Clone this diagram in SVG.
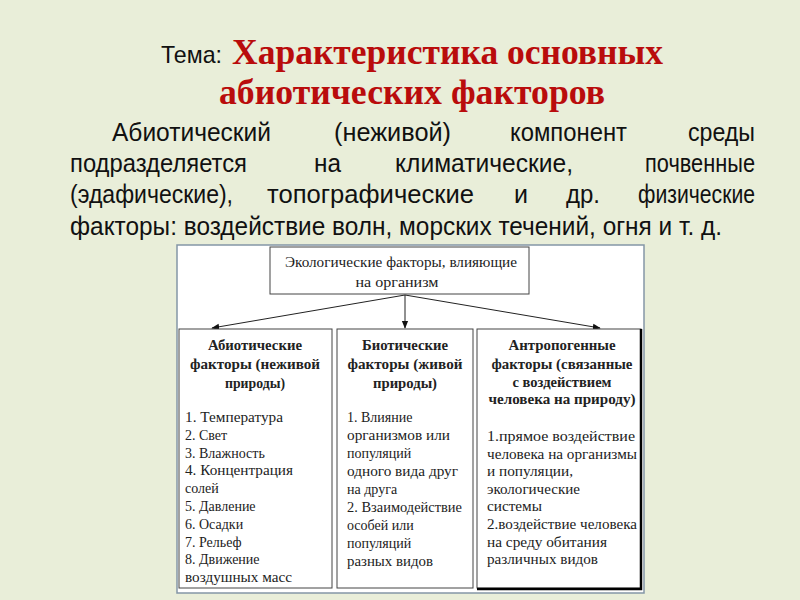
<svg xmlns="http://www.w3.org/2000/svg" width="800" height="600" viewBox="0 0 800 600">
<defs>
<style>
.bg{fill:#e9eed9}
.t{font-family:"Liberation Serif","Times New Roman",serif;font-size:14px;fill:#222}
.h{font-family:"Liberation Serif","Times New Roman",serif;font-size:14px;font-weight:bold;fill:#222;text-anchor:middle}
.p{font-family:"Liberation Sans Narrow","Liberation Sans",Arial,sans-serif;font-size:25px;fill:#111}
.red{font-family:"Liberation Serif","Times New Roman",serif;font-size:35px;font-weight:bold;fill:#b90c0c}
.box{fill:#fff;stroke:#444;stroke-width:1}
.conn{stroke:#222;stroke-width:1;fill:none;marker-end:url(#ah)}
</style>
<marker id="ah" viewBox="0 0 10 10" refX="9" refY="5" markerWidth="8" markerHeight="8" markerUnits="userSpaceOnUse" orient="auto">
<path d="M0,1 L10,5 L0,9 z" fill="#111"/>
</marker>
</defs>
<rect class="bg" x="0" y="0" width="800" height="600"/>

<g id="title">
<text x="161" y="63" font-family="'Liberation Sans Narrow','Liberation Sans',Arial,sans-serif" font-size="24" fill="#111" textLength="61" lengthAdjust="spacingAndGlyphs">Тема:</text>
<text class="red" x="232" y="64" textLength="431" lengthAdjust="spacingAndGlyphs">Характеристика основных</text>
<text class="red" x="219" y="104" textLength="386" lengthAdjust="spacingAndGlyphs">абиотических факторов</text>
</g>

<g id="paragraph">
<text class="p" x="112" y="141" textLength="159" lengthAdjust="spacingAndGlyphs">Абиотический</text>
<text class="p" x="334" y="141" textLength="117" lengthAdjust="spacingAndGlyphs">(неживой)</text>
<text class="p" x="510" y="141" textLength="117" lengthAdjust="spacingAndGlyphs">компонент</text>
<text class="p" x="688" y="141" textLength="67" lengthAdjust="spacingAndGlyphs">среды</text>
<text class="p" x="70" y="172" textLength="177" lengthAdjust="spacingAndGlyphs">подразделяется</text>
<text class="p" x="314" y="172" textLength="27" lengthAdjust="spacingAndGlyphs">на</text>
<text class="p" x="395" y="172" textLength="178" lengthAdjust="spacingAndGlyphs">климатические,</text>
<text class="p" x="645" y="172" textLength="110" lengthAdjust="spacingAndGlyphs">почвенные</text>
<text class="p" x="70" y="203" textLength="163" lengthAdjust="spacingAndGlyphs">(эдафические),</text>
<text class="p" x="267" y="203" textLength="207" lengthAdjust="spacingAndGlyphs">топографические</text>
<text class="p" x="514" y="203" textLength="14" lengthAdjust="spacingAndGlyphs">и</text>
<text class="p" x="566" y="203" textLength="34" lengthAdjust="spacingAndGlyphs">др.</text>
<text class="p" x="638" y="203" textLength="117" lengthAdjust="spacingAndGlyphs">физические</text>
<text class="p" x="70" y="235" textLength="652" lengthAdjust="spacingAndGlyphs">факторы: воздействие волн, морских течений, огня и т. д.</text>
</g>

<rect id="frame" x="177" y="245" width="467" height="348" fill="#fff" stroke="#8496a6" stroke-width="1.5"/>

<g id="root">
<rect class="box" x="270" y="247" width="259" height="47" stroke="#333"/>
<text class="t" x="285" y="267" textLength="232" lengthAdjust="spacingAndGlyphs">Экологические факторы, влияющие</text>
<text class="t" x="397" y="287" text-anchor="middle" textLength="83" lengthAdjust="spacingAndGlyphs">на организм</text>
</g>

<g id="connectors">
<line class="conn" x1="405" y1="295" x2="212" y2="328"/>
<line class="conn" x1="405" y1="295" x2="405" y2="328"/>
<line class="conn" x1="405" y1="295" x2="600" y2="328"/>
</g>

<g id="abiotic">
<rect class="box" x="179" y="329" width="153" height="259"/>
<text class="h" x="255" y="350" textLength="94" lengthAdjust="spacingAndGlyphs">Абиотические</text>
<text class="h" x="255" y="369" textLength="130" lengthAdjust="spacingAndGlyphs">факторы (неживой</text>
<text class="h" x="255" y="388" textLength="60" lengthAdjust="spacingAndGlyphs">природы)</text>
<text class="t" x="185" y="422" textLength="98" lengthAdjust="spacingAndGlyphs">1. Температура</text>
<text class="t" x="185" y="440">2. Свет</text>
<text class="t" x="185" y="458">3. Влажность</text>
<text class="t" x="185" y="475" textLength="108" lengthAdjust="spacingAndGlyphs">4. Концентрация</text>
<text class="t" x="185" y="493">солей</text>
<text class="t" x="185" y="511">5. Давление</text>
<text class="t" x="185" y="529">6. Осадки</text>
<text class="t" x="185" y="547">7. Рельеф</text>
<text class="t" x="185" y="564">8. Движение</text>
<text class="t" x="185" y="582" textLength="107" lengthAdjust="spacingAndGlyphs">воздушных масс</text>
</g>

<g id="biotic">
<rect class="box" x="337" y="329" width="136" height="259"/>
<text class="h" x="405" y="350" textLength="86" lengthAdjust="spacingAndGlyphs">Биотические</text>
<text class="h" x="405" y="369" textLength="115" lengthAdjust="spacingAndGlyphs">факторы (живой</text>
<text class="h" x="405" y="388" textLength="64" lengthAdjust="spacingAndGlyphs">природы)</text>
<text class="t" x="347" y="422">1. Влияние</text>
<text class="t" x="347" y="440" textLength="103" lengthAdjust="spacingAndGlyphs">организмов или</text>
<text class="t" x="347" y="458">популяций</text>
<text class="t" x="347" y="476" textLength="111" lengthAdjust="spacingAndGlyphs">одного вида друг</text>
<text class="t" x="347" y="494">на друга</text>
<text class="t" x="347" y="512" textLength="115" lengthAdjust="spacingAndGlyphs">2. Взаимодействие</text>
<text class="t" x="347" y="530">особей или</text>
<text class="t" x="347" y="548">популяций</text>
<text class="t" x="347" y="566" textLength="86" lengthAdjust="spacingAndGlyphs">разных видов</text>
</g>

<g id="anthropogenic">
<rect class="box" x="477" y="329" width="164" height="259"/>
<path d="M641,329 V589 H477" fill="none" stroke="#000" stroke-width="2.5"/>
<text class="h" x="562" y="350" textLength="107" lengthAdjust="spacingAndGlyphs">Антропогенные</text>
<text class="h" x="562" y="369" textLength="141" lengthAdjust="spacingAndGlyphs">факторы (связанные</text>
<text class="h" x="562" y="387" textLength="99" lengthAdjust="spacingAndGlyphs">с воздействием</text>
<text class="h" x="562" y="404" textLength="147" lengthAdjust="spacingAndGlyphs">человека на природу)</text>
<text class="t" x="487" y="441" textLength="148" lengthAdjust="spacingAndGlyphs">1.прямое воздействие</text>
<text class="t" x="487" y="459" textLength="150" lengthAdjust="spacingAndGlyphs">человека на организмы</text>
<text class="t" x="487" y="476" textLength="86" lengthAdjust="spacingAndGlyphs">и популяции,</text>
<text class="t" x="487" y="494" textLength="93" lengthAdjust="spacingAndGlyphs">экологические</text>
<text class="t" x="487" y="511" textLength="55" lengthAdjust="spacingAndGlyphs">системы</text>
<text class="t" x="487" y="529" textLength="150" lengthAdjust="spacingAndGlyphs">2.воздействие человека</text>
<text class="t" x="487" y="547" textLength="120" lengthAdjust="spacingAndGlyphs">на среду обитания</text>
<text class="t" x="487" y="564" textLength="111" lengthAdjust="spacingAndGlyphs">различных видов</text>
</g>
</svg>
